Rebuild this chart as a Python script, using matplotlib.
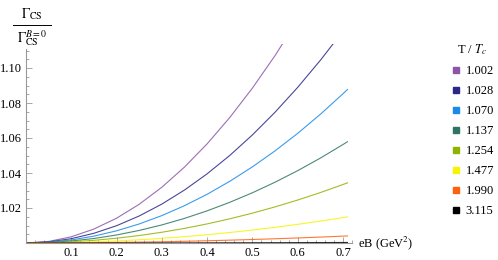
import matplotlib
matplotlib.use('Agg')
import matplotlib.pyplot as plt
from matplotlib.lines import Line2D
from matplotlib.ticker import MultipleLocator, FixedLocator

plt.rcParams['font.family'] = ['Liberation Serif', 'DejaVu Serif']
plt.rcParams['mathtext.fontset'] = 'stix'

# eB in GeV^2
eB = [0.0, 0.05, 0.10, 0.15, 0.20, 0.25, 0.30, 0.35, 0.40, 0.45, 0.50, 0.55, 0.60, 0.65, 0.70, 0.71]

# Gamma_CS / Gamma_CS(B=0), one list per T/Tc
r_1002 = [1.0, 1.00089, 1.00354, 1.00797, 1.01416, 1.02213, 1.03186, 1.04337, 1.05664, 1.07169, 1.08850, 1.10709, 1.12744, 1.14957, 1.17346, 1.17845]
r_1028 = [1.0, 1.00062, 1.00247, 1.00556, 1.00988, 1.01544, 1.02223, 1.03026, 1.03952, 1.05002, 1.06175, 1.07472, 1.08892, 1.10436, 1.12103, 1.12451]
r_1070 = [1.0, 1.00044, 1.00174, 1.00392, 1.00696, 1.01088, 1.01566, 1.02132, 1.02784, 1.03524, 1.04350, 1.05264, 1.06264, 1.07352, 1.08526, 1.08771]
r_1137 = [1.0, 1.00029, 1.00115, 1.00258, 1.00459, 1.00718, 1.01033, 1.01406, 1.01837, 1.02325, 1.02870, 1.03473, 1.04133, 1.04850, 1.05625, 1.05787]
r_1254 = [1.0, 1.00017, 1.00068, 1.00153, 1.00273, 1.00426, 1.00614, 1.00835, 1.01091, 1.01381, 1.01705, 1.02063, 1.02455, 1.02881, 1.03342, 1.03438]
r_1477 = [1.0, 1.00007, 1.00030, 1.00067, 1.00118, 1.00185, 1.00266, 1.00363, 1.00474, 1.00599, 1.00740, 1.00895, 1.01066, 1.01251, 1.01450, 1.01492]
r_1990 = [1.0, 1.00002, 1.00008, 1.00018, 1.00032, 1.00050, 1.00072, 1.00098, 1.00128, 1.00162, 1.00200, 1.00242, 1.00288, 1.00338, 1.00392, 1.00403]
r_3115 = [1.0, 1.00000, 1.00001, 1.00001, 1.00002, 1.00004, 1.00005, 1.00007, 1.00010, 1.00012, 1.00015, 1.00018, 1.00022, 1.00025, 1.00029, 1.00030]

series = [r_1002, r_1028, r_1070, r_1137, r_1254, r_1477, r_1990, r_3115]
labels = ['1.002', '1.028', '1.070', '1.137', '1.254', '1.477', '1.990', '3.115']
colores = ['#8c55a8', '#2b2786', '#1a8ae8', '#2e7465', '#8fb300', '#f5f500', '#ff6010', '#000000']

fig = plt.figure(figsize=(4.98, 2.60), dpi=100)
ax = fig.add_axes([26/498, 17/260, 326/498, 199.5/260])

for y, c in zip(series, colores):
    ax.plot(eB, y, color=c, lw=0.8, alpha=0.85)

ax.set_xlim(0, 0.72)
ax.set_ylim(1.0, 1.114)

for s in ['top', 'right']:
    ax.spines[s].set_visible(False)
for s in ['left', 'bottom']:
    ax.spines[s].set_color('#999999')
    ax.spines[s].set_linewidth(0.8)
ax.spines['left'].set_bounds(1.0, 1.111)

ax.xaxis.set_major_locator(FixedLocator([0.1, 0.2, 0.3, 0.4, 0.5, 0.6, 0.7]))
ax.xaxis.set_minor_locator(MultipleLocator(0.02))
ax.yaxis.set_major_locator(FixedLocator([1.02, 1.04, 1.06, 1.08, 1.10]))
ax.yaxis.set_minor_locator(MultipleLocator(0.005))
ax.set_xticklabels(['0.1', '0.2', '0.3', '0.4', '0.5', '0.6', '0.7'])
ax.set_yticklabels(['1.02', '1.04', '1.06', '1.08', '1.10'])
ax.tick_params(which='both', direction='in', color='#999999', labelsize=9, width=0.6)
ax.tick_params(which='major', length=4, pad=3)
ax.tick_params(which='minor', length=2)

fig.text(358/498, 1 - 243/260, 'eB (GeV$^2$)', fontsize=9, va='center', ha='left')

# etiqueta del eje y como fraccion
fig.text(32/498, 1 - 22/260, r'$\Gamma_{\mathrm{CS}}$', fontsize=10, ha='center', va='bottom')
fig.add_artist(Line2D([13/498, 51/498], [1 - 25/260, 1 - 25/260], color='black', lw=0.7))
fig.text(32/498, 1 - 28/260, r'$\Gamma_{\mathrm{CS}}^{B=0}$', fontsize=10, ha='center', va='top')

handles = [Line2D([], [], marker='s', ls='none', color=c, markersize=5) for c in colores]
fig.legend(handles, labels, title='T / $T_c$', loc='upper left',
           bbox_to_anchor=(438/498, 1 - 31/260), frameon=False, fontsize=9,
           title_fontsize=9, labelspacing=0.64, handletextpad=0.3, handlelength=1.0)

fig.savefig('out.png', dpi=100)
